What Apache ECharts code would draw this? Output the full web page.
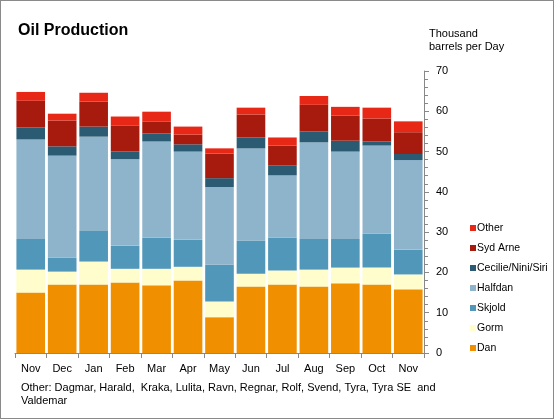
<!DOCTYPE html>
<html><head><meta charset="utf-8">
<script src="https://cdn.jsdelivr.net/npm/echarts@6/dist/echarts.min.js"></script>
<style>html,body{margin:0;padding:0;background:#fff}#c{width:554px;height:419px;box-sizing:border-box;border:1px solid #8a8a8a}</style>
</head><body><div id="c"></div>
<script>
const categories = ['Nov','Dec','Jan','Feb','Mar','Apr','May','Jun','Jul','Aug','Sep','Oct','Nov'];
const dan      = [15.0,17.0,17.0,17.5,16.8,18.0, 8.9,16.5,17.0,16.5,17.3,17.0,15.8];
const gorm     = [ 5.7, 3.2, 5.7, 3.4, 4.1, 3.4, 3.9, 3.2, 3.5, 4.2, 3.9, 4.2, 3.7];
const skjold   = [ 7.6, 3.5, 7.6, 5.7, 7.7, 6.7, 9.1, 8.2, 8.1, 7.6, 7.1, 8.4, 6.1];
const halfdan  = [24.7,25.3,23.4,21.5,23.9,21.9,19.3,22.9,15.5,24.0,21.7,21.9,22.3];
const cecilie  = [ 3.0, 2.3, 2.5, 1.9, 2.0, 1.8, 2.2, 2.7, 2.5, 2.7, 2.7, 1.0, 1.5];
const sydArne  = [ 6.6, 6.4, 6.2, 6.4, 2.9, 2.4, 6.1, 5.7, 4.9, 6.6, 6.2, 5.7, 5.4];
const other    = [ 2.2, 1.7, 2.2, 2.3, 2.5, 2.0, 1.3, 1.7, 2.0, 2.2, 2.2, 2.7, 2.7];
const seriesNames = ['Dan','Gorm','Skjold','Halfdan','Cecilie/Nini/Siri','Syd Arne','Other'];
const yTicks = [0,10,20,30,40,50,60,70];

const colors = ['#F09000','#FEFDCB','#5197BA','#8EB4CC','#2B5B72','#A71B0F','#E72817'];
const dataSets = [dan,gorm,skjold,halfdan,cecilie,sydArne,other];
const font = 'Liberation Sans, Arial, sans-serif';

const chart = echarts.init(document.getElementById('c'));
chart.setOption({
  animation:false,
  textStyle:{fontFamily:font},
  grid:{left:14,right:129,top:70,bottom:65},
  title:{text:'Oil Production',left:12,top:17,textStyle:{fontFamily:font,fontSize:16,fontWeight:'bold',color:'#000'}},
  graphic:[
    {type:'text',left:428,top:26,style:{text:'Thousand\nbarrels per Day',font:'11px '+font,fill:'#000',lineHeight:13}},
    {type:'text',left:20,top:380,style:{text:'Other: Dagmar, Harald,  Kraka, Lulita, Ravn, Regnar, Rolf, Svend, Tyra, Tyra SE  and\nValdemar',font:'11px '+font,fill:'#000',lineHeight:13}}
  ],
  legend:{
    orient:'vertical',left:464,top:215,itemWidth:6,itemHeight:6,itemGap:6,
    data:seriesNames.slice().reverse(),
    textStyle:{fontFamily:font,fontSize:10.5,color:'#000',lineHeight:14,padding:[0,0,0,-4]},
    icon:'rect'
  },
  xAxis:{
    type:'category',data:categories,
    axisLine:{lineStyle:{color:'#888'}},
    axisTick:{show:true,alignWithLabel:false,length:5,lineStyle:{color:'#888'}},
    axisLabel:{interval:0,fontSize:11,color:'#000',fontFamily:font,margin:10}
  },
  yAxis:{
    type:'value',position:'right',min:yTicks[0],max:yTicks[yTicks.length-1],interval:10,
    splitLine:{show:false},
    axisLine:{show:true,lineStyle:{color:'#888'}},
    axisTick:{show:true,length:5,lineStyle:{color:'#888'}},
    minorTick:{show:true,splitNumber:5,length:4,lineStyle:{color:'#888'}},
    axisLabel:{fontSize:11,color:'#000',fontFamily:font,margin:12}
  },
  series:seriesNames.map((n,i)=>({
    name:n,type:'bar',stack:'total',data:dataSets[i],barCategoryGap:'9%',
    itemStyle:{color:colors[i]}
  }))
});
</script></body></html>
